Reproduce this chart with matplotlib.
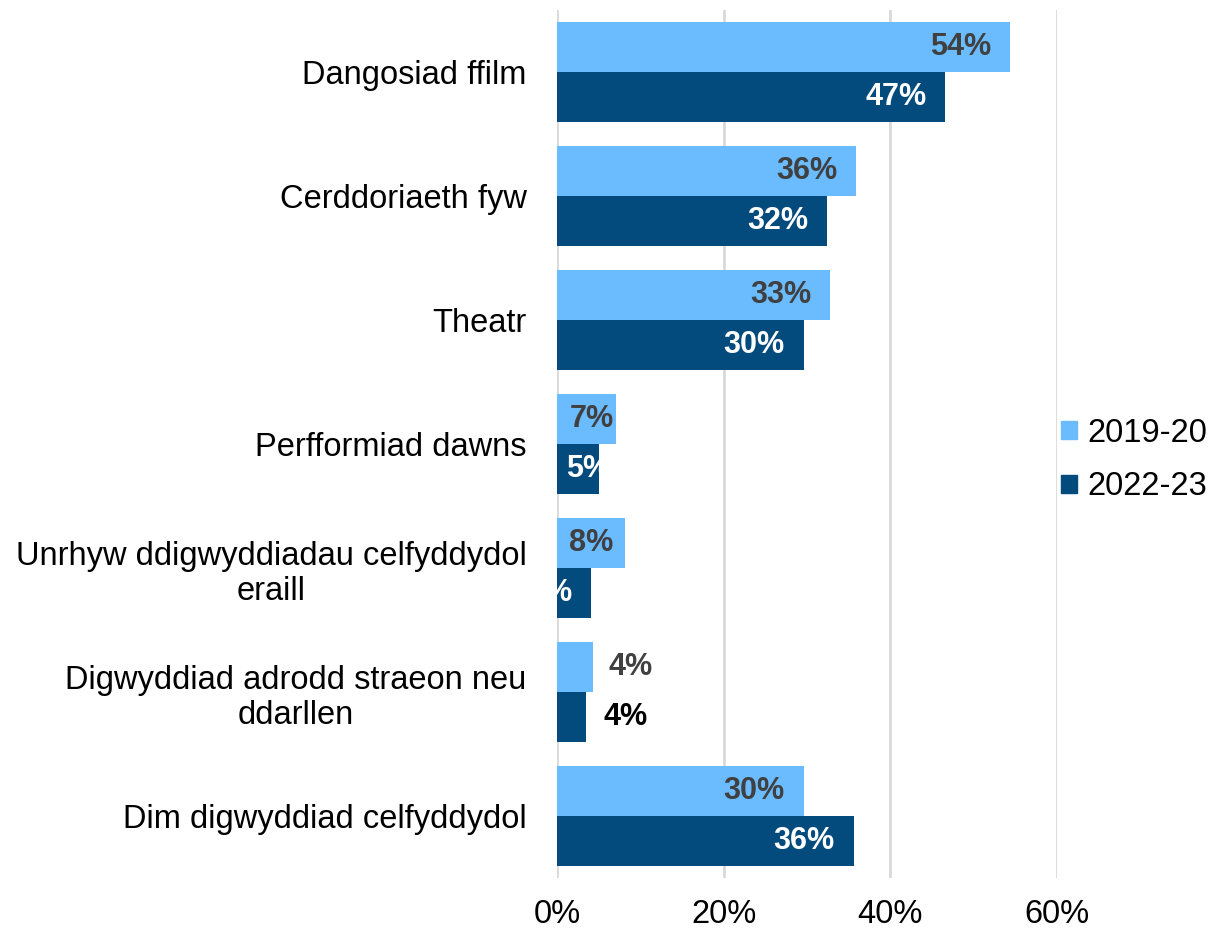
import numpy as np
import matplotlib
matplotlib.use("Agg")
from matplotlib import pyplot as plt
from matplotlib.patches import Patch
from matplotlib.ticker import FuncFormatter
import matplotlib.transforms as mtransforms

plt.rcParams['font.family'] = ['Liberation Sans', 'DejaVu Sans']

# data
categories = ["Dangosiad ffilm", "Cerddoriaeth fyw", "Theatr", "Perfformiad dawns",
              "Unrhyw ddigwyddiadau celfyddydol\neraill",
              "Digwyddiad adrodd straeon neu\nddarllen", "Dim digwyddiad celfyddydol"]
series_names = ["2019-20", "2022-23"]
vals_1920 = [54.4, 35.9, 32.8, 7.1, 8.1, 4.3, 29.6]
vals_2223 = [46.6, 32.4, 29.6, 5.0, 4.1, 3.5, 35.6]
xticks = [0, 20, 40, 60]

# label placement (pixel offset of label edge from bar end, alignment, colour)
lab_1920 = [(-19, 'right', '#404040')] * 3 + [(-2, 'right', '#404040'), (-11, 'right', '#404040'),
                                              (16, 'left', '#404040'), (-19, 'right', '#404040')]
lab_2223 = [(-19, 'right', 'white')] * 3 + [(12, 'right', 'white'), (-19, 'right', 'white'),
                                            (17, 'left', 'black'), (-19, 'right', 'white')]

c_light = "#6BBCFF"
c_dark = "#034A7D"

fig = plt.figure(figsize=(12.16, 9.3), dpi=100)
ax = fig.add_axes([557/1216, 52/930, 500/1216, 868/930])

y = np.arange(len(categories))
h = 0.4
b1 = ax.barh(y - h/2, vals_1920, height=h, color=c_light, zorder=2)
b2 = ax.barh(y + h/2, vals_2223, height=h, color=c_dark, zorder=2)

ax.set_xlim(0, 60)
ax.set_ylim(len(categories) - 0.5, -0.5)
ax.set_yticks(y)
ax.set_yticklabels(categories, fontsize=23.5, multialignment='center')
ax.set_xticks(xticks)
ax.xaxis.set_major_formatter(FuncFormatter(lambda v, p: f"{v:.0f}%"))
ax.tick_params(axis='x', labelsize=23.5, length=0, pad=15)
ax.tick_params(axis='y', length=0, pad=22)
for s in ax.spines.values():
    s.set_visible(False)
ax.grid(axis='x', color='#D9D9D9', linewidth=2, zorder=0)

for bars, vals, labs in [(b1, vals_1920, lab_1920), (b2, vals_2223, lab_2223)]:
    for bar, v, (dx, ha, col) in zip(bars, vals, labs):
        tr = ax.transData + mtransforms.ScaledTranslation(dx/100, 0, fig.dpi_scale_trans)
        ax.text(v, bar.get_y() + bar.get_height()/2, f"{round(v + 1e-9):.0f}%",
                transform=tr, ha=ha, va='center', fontsize=22, fontweight='bold',
                color=col, zorder=3)

handles = [Patch(color=c_light, label=series_names[0]), Patch(color=c_dark, label=series_names[1])]
fig.legend(handles=handles, loc='center left', bbox_to_anchor=(1061/1216, 1 - 460/930),
           frameon=False, fontsize=23.5, handlelength=0.5, handleheight=0.5,
           handletextpad=0.3, labelspacing=0.7, borderpad=0, borderaxespad=0)

fig.savefig("out.png", dpi=100)
